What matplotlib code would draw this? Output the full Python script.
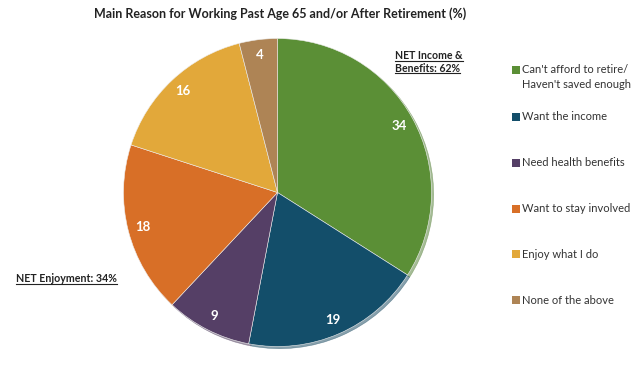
import matplotlib
matplotlib.use("Agg")
import matplotlib.pyplot as plt
from matplotlib.patches import Rectangle

plt.rcParams["font.family"] = ["Lato", "DejaVu Sans"]

# ── Data ─────────────────────────────────────────────────────────────────────
LABELS = ["Can't afford to retire/\nHaven't saved enough", "Want the income",
          "Need health benefits", "Want to stay involved", "Enjoy what I do",
          "None of the above"]
VALUES = [34, 19, 9, 18, 16, 4]
COLORS = ["#5B8F36", "#134E6A", "#553F66", "#D86F27", "#E2A83A", "#AE8455"]

TITLE = "Main Reason for Working Past Age 65 and/or After Retirement (%)"
NET_INCOME = "NET Income &\nBenefits: 62%"
NET_ENJOY = "NET Enjoyment: 34%"

W, H = 640, 366
fig = plt.figure(figsize=(W / 100, H / 100), dpi=100, facecolor="white")

# pie axes placed in pixel coords
cx, cy, r = 277.5, 192.5, 154
ax = fig.add_axes([(cx - r) / W, (H - cy - r) / H, 2 * r / W, 2 * r / H])
wedges, texts, autotexts = ax.pie(
    VALUES, colors=COLORS, startangle=90, counterclock=False, radius=1,
    autopct=lambda p: f"{p:.0f}", pctdistance=0.9,
    wedgeprops=dict(edgecolor="#eeeeee", linewidth=0.4),
    textprops=dict(color="white", fontsize=9.5, fontweight="bold"),
    shadow=dict(ox=0.01, oy=-0.01, shade=0.15, alpha=0.5),
)
ax.set_xlim(-1, 1)
ax.set_ylim(-1, 1)
ax.set_aspect("equal")
ax.axis("off")

fig.text(280 / W, 1 - 14 / H, TITLE, ha="center", va="center",
         fontsize=9, fontweight="bold", color="#222222")

# annotations with underline
notes = [
    fig.text(395 / W, 1 - 62 / H, NET_INCOME, ha="left", va="center",
             fontsize=7.6, fontweight="bold", color="#222222", linespacing=1.3),
    fig.text(16 / W, 1 - 279 / H, NET_ENJOY, ha="left", va="center",
             fontsize=7.7, fontweight="bold", color="#222222"),
]

# legend, drawn by hand so the uneven spacing of the original is kept
leg_y = [77, 117, 163, 209, 254, 300]
leg_first = [70, 117, 163, 209, 254, 300]
for lab, col, yc, y0 in zip(LABELS, COLORS, leg_y, leg_first):
    fig.add_artist(Rectangle((512 / W, 1 - (y0 + 3.75) / H), 7.5 / W, 7.5 / H,
                             facecolor=col, edgecolor="none",
                             transform=fig.transFigure))
    fig.text(522.5 / W, 1 - yc / H, lab, ha="left", va="center", fontsize=8,
             color="#333333", linespacing=1.35)

fig.canvas.draw()
rend = fig.canvas.get_renderer()
for t in notes:
    lines = t.get_text().split("\n")
    bb = t.get_window_extent(rend)
    lh = bb.height / len(lines)
    for i, ln in enumerate(lines):
        tmp = fig.text(0, 0, ln, fontsize=t.get_fontsize(), fontweight="bold")
        wpx = tmp.get_window_extent(rend).width
        tmp.remove()
        y = bb.y1 - (i + 1) * lh + 1
        fig.add_artist(plt.Line2D([bb.x0 / W, (bb.x0 + wpx) / W],
                                  [y / H, y / H], color="#222222", lw=0.8))

fig.savefig("out.png", dpi=100, facecolor="white")
